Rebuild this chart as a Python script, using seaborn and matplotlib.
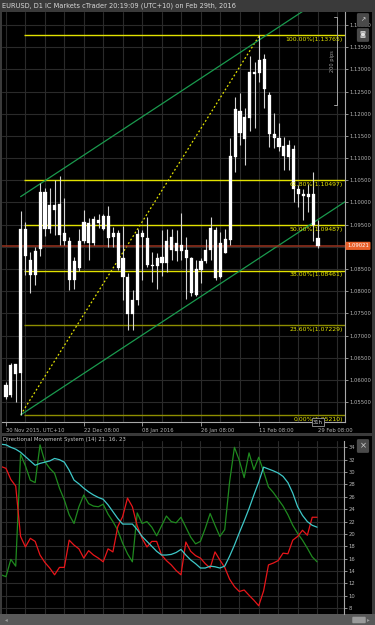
import numpy as np
import pandas as pd
import matplotlib
matplotlib.use("Agg")
import matplotlib.pyplot as plt
import matplotlib.transforms as mtransforms
from matplotlib.patches import Rectangle, FancyBboxPatch
import seaborn as sns

sns.set_theme(style="dark")
plt.rcParams['font.family'] = ['DejaVu Sans']

# ---------------- data ----------------
title = "EURUSD, D1 IC Markets cTrader 20:19:09 (UTC+10) on Feb 29th, 2016"
dms_title = "Directional Movement System (14) 21, 16, 23"

opens = [1.0589, 1.0566, 1.0635, 1.0616, 1.0940, 1.0870, 1.0837, 1.0894, 1.1024, 1.0940,
         1.0994, 1.0997, 1.0930, 1.0913, 1.0825, 1.0852, 1.0914, 1.0954, 1.0909, 1.0960,
         1.0940, 1.0970, 1.0921, 1.0930, 1.0874, 1.0833, 1.0749, 1.0780, 1.0930, 1.0919,
         1.0860, 1.0857, 1.0878, 1.0864, 1.0923, 1.0891, 1.0904, 1.0893, 1.0874, 1.0791,
         1.0848, 1.0869, 1.0893, 1.0938, 1.0833, 1.0917, 1.0915, 1.1103, 1.1207, 1.1142,
         1.1190, 1.1294, 1.1291, 1.1323, 1.1242, 1.1154, 1.1145, 1.1127, 1.1102, 1.1120,
         1.1030, 1.1019, 1.1013, 1.1019, 1.0919]
highs = [1.0596, 1.0637, 1.0635, 1.0981, 1.0957, 1.0889, 1.0900, 1.1043, 1.1033, 1.1032,
         1.1051, 1.1060, 1.1011, 1.0921, 1.0876, 1.0940, 1.0983, 1.0964, 1.0970, 1.0974,
         1.0974, 1.0992, 1.0944, 1.0938, 1.0947, 1.0842, 1.0803, 1.0940, 1.0938, 1.0968,
         1.0889, 1.0887, 1.0938, 1.0940, 1.0940, 1.0938, 1.0977, 1.0921, 1.0878, 1.0870,
         1.0874, 1.0917, 1.0968, 1.0945, 1.0934, 1.0940, 1.1145, 1.1238, 1.1247, 1.1212,
         1.1329, 1.1317, 1.13765, 1.1335, 1.1250, 1.1202, 1.1180, 1.1148, 1.1141, 1.1130,
         1.1039, 1.1030, 1.1042, 1.1069, 1.0960]
lows = [1.0556, 1.0562, 1.0551, 1.0521, 1.0837, 1.0795, 1.0814, 1.0879, 1.0924, 1.0930,
        1.0927, 1.0904, 1.0904, 1.0803, 1.0804, 1.0846, 1.0909, 1.0870, 1.0904, 1.0942,
        1.0938, 1.0900, 1.0900, 1.0848, 1.0780, 1.0713, 1.0713, 1.0769, 1.0825, 1.0855,
        1.0821, 1.0804, 1.0834, 1.0844, 1.0870, 1.0869, 1.0870, 1.0782, 1.0788, 1.0788,
        1.0819, 1.0863, 1.0870, 1.0825, 1.0829, 1.0885, 1.0904, 1.1069, 1.1130, 1.1084,
        1.1162, 1.1167, 1.1272, 1.1214, 1.1126, 1.1122, 1.1117, 1.1073, 1.1073, 1.1002,
        1.0990, 1.0960, 1.0979, 1.0912, 1.0897]
closes = [1.0562, 1.0634, 1.0613, 1.0940, 1.0879, 1.0837, 1.0891, 1.1024, 1.0940, 1.0994,
          1.0983, 1.0927, 1.0912, 1.0825, 1.0868, 1.0914, 1.0957, 1.0909, 1.0962, 1.0954,
          1.0970, 1.0919, 1.0930, 1.0852, 1.0833, 1.0749, 1.0780, 1.0929, 1.0923, 1.0859,
          1.0857, 1.0874, 1.0864, 1.0914, 1.0893, 1.0908, 1.0891, 1.0874, 1.0795, 1.0849,
          1.0869, 1.0893, 1.0942, 1.0829, 1.0909, 1.0887, 1.1105, 1.1210, 1.1157, 1.1192,
          1.1295, 1.1289, 1.1321, 1.1255, 1.1154, 1.1145, 1.1126, 1.1105, 1.1130, 1.1030,
          1.1019, 1.1015, 1.1019, 1.0949, 1.09021]

x_tick_bars = [0, 16, 28, 40, 52, 64]
x_tick_labels = ["30 Nov 2015, UTC+10", "22 Dec 08:00", "08 Jan 2016",
                 "26 Jan 08:00", "11 Feb 08:00", "29 Feb 08:00"]

fib_pcts = ["0.00%", "23.60%", "38.00%", "50.00%", "61.80%", "100.00%"]
fib_levels = [1.05210, 1.07229, 1.08461, 1.09487, 1.10497, 1.13765]
swing_low_bar = 3
swing_high_bar = 52

channel_start_bar = 3
channel_slope = 0.000722      # price per bar
channel_width = 0.0492

pips_top = 1.1419
pips_span = 200

# DMS values start one bar before the first visible candle
dms_first_bar = -1
adx = [34.5, 34.4, 34.0, 33.7, 33.2, 32.5, 31.8, 31.1, 31.4, 31.6, 31.8, 32.2, 32.0, 31.6,
       30.3, 28.7, 28.1, 27.4, 26.8, 26.3, 25.9, 25.6, 24.7, 23.6, 22.5, 21.6, 21.6, 21.6,
       20.7, 19.6, 18.8, 18.0, 17.2, 16.6, 16.6, 16.7, 17.0, 17.5, 16.6, 15.8, 15.2, 14.5,
       14.5, 14.8, 14.7, 14.5, 14.8, 16.4, 18.2, 20.2, 22.1, 24.1, 26.3, 28.4, 30.8, 30.5,
       30.2, 29.85, 29.3, 28.3, 26.6, 24.4, 23.0, 22.0, 21.4, 21.1]
plus_di = [13.4, 13.1, 15.9, 14.8, 32.9, 31.0, 28.7, 28.3, 34.4, 31.7, 30.6, 29.8, 27.4,
           25.5, 23.1, 21.7, 24.4, 26.3, 24.9, 24.5, 24.4, 24.8, 23.2, 22.0, 20.6, 18.5,
           16.8, 15.5, 23.4, 21.7, 22.0, 21.1, 19.7, 21.3, 22.9, 22.0, 21.8, 22.7, 21.1,
           19.5, 18.4, 18.8, 20.9, 23.3, 21.4, 19.6, 20.7, 28.4, 34.0, 31.9, 29.1, 33.1,
           30.4, 32.4, 30.1, 27.6, 26.7, 25.6, 24.5, 23.1, 21.4, 20.1, 19.0, 17.7, 16.3, 15.5]
minus_di = [30.9, 30.6, 28.8, 27.75, 19.6, 17.9, 19.3, 18.8, 16.6, 15.4, 14.5, 13.4, 14.6,
            14.6, 19.0, 18.2, 17.6, 16.1, 17.3, 16.6, 16.1, 15.5, 17.6, 17.1, 21.2, 22.8,
            25.8, 24.4, 21.3, 19.3, 17.9, 18.8, 18.8, 16.6, 15.7, 15.0, 14.1, 13.4, 18.7,
            17.2, 16.5, 16.1, 15.2, 14.5, 17.1, 15.8, 14.6, 12.7, 11.5, 10.7, 10.95, 10.1,
            9.3, 8.4, 10.8, 15.0, 15.3, 15.7, 16.9, 16.8, 19.0, 19.6, 20.6, 19.8, 22.7, 22.7]

# ---------------- layout helpers ----------------
W, H = 375, 625
def rect(x0, y0, x1, y1):
    return [x0 / W, 1 - y1 / H, (x1 - x0) / W, (y1 - y0) / H]

fig = plt.figure(figsize=(3.75, 6.25), dpi=100, facecolor='#3a3a3a')

# black panel backgrounds (behind the axes)
for (x0, y0, x1, y1) in [(2, 11.5, 372, 433), (2, 436, 372, 614)]:
    fig.patches.append(Rectangle((x0 / W, 1 - y1 / H), (x1 - x0) / W, (y1 - y0) / H,
                                 transform=fig.transFigure, facecolor='black',
                                 edgecolor='none', zorder=-10))
# scrollbar
fig.patches.append(Rectangle((0, 0), 1, 11 / H, transform=fig.transFigure,
                             facecolor='#585858', edgecolor='none', zorder=-10))
fig.patches.append(FancyBboxPatch((353 / W, 1 - 622 / H), 12 / W, 4 / H,
                                  boxstyle="round,pad=0.002", transform=fig.transFigure,
                                  facecolor='#9a9a9a', edgecolor='none', zorder=-9))
fig.text(6 / W, 1 - 620 / H, "◂", fontsize=4, color='#9a9a9a', va='center', ha='center')
fig.text(368 / W, 1 - 620 / H, "▸", fontsize=4, color='#9a9a9a', va='center', ha='center')

fig.text(2 / W, 1 - 6 / H, title, fontsize=4.8, color='#d8d8d8', va='center', ha='left')

grid_c = '#2a2a2a'
axis_c = '#a8a8a8'
label_c = '#b4b4b4'

n = len(closes)
bars = np.arange(n)
xlim = (-0.82, 69.54)

# ---------------- main price panel ----------------
ax = fig.add_axes(rect(2, 12, 345, 422))
ax.set_facecolor('black')
ax.set_xlim(*xlim)
ax.set_ylim(1.0505, 1.14293)

price_ticks = np.round(np.arange(1.055, 1.1401, 0.005), 3)
for v in price_ticks:
    ax.axhline(v, color=grid_c, lw=0.8, zorder=0)
for b in range(0, 70, 4):
    ax.axvline(b, color=grid_c, lw=0.8, zorder=0)

last = closes[-1]
ax.yaxis.tick_right()
ax.set_yticks(price_ticks)
# the tick label hidden under the current-price marker is left blank
ax.set_yticklabels(["" if abs(v - last) < 0.0015 else f"{v:.5f}" for v in price_ticks])
ax.set_xticks(x_tick_bars)
ax.set_xticklabels(x_tick_labels)
for lab in ax.get_xticklabels():
    lab.set_horizontalalignment('left')
ax.tick_params(axis='y', colors=axis_c, labelcolor=label_c, labelsize=3.8,
               length=2, width=0.6, pad=1, right=True, left=False)
ax.tick_params(axis='x', colors=axis_c, labelcolor=label_c, labelsize=3.8,
               length=3, width=0.6, pad=1.5, bottom=True)
for s in ['top', 'left']:
    ax.spines[s].set_visible(False)
for s in ['right', 'bottom']:
    ax.spines[s].set_color(axis_c)
    ax.spines[s].set_linewidth(0.8)
ax.grid(False)

bt = mtransforms.blended_transform_factory(ax.transAxes, ax.transData)
btx = mtransforms.blended_transform_factory(ax.transData, ax.transAxes)

# fibonacci retracement
for pct, lvl in zip(fib_pcts, fib_levels):
    bright = float(pct.rstrip('%')) >= 38
    ax.hlines(lvl, swing_low_bar + 0.7, xlim[1], color='#e2e200' if bright else '#8e8e00',
              lw=1.0, zorder=2)
    ax.annotate(f"{pct}({lvl:.5f})", xy=(0.994, lvl), xycoords=bt, xytext=(0, -1.2),
                textcoords='offset points', ha='right', va='top', fontsize=4.4,
                color='#e6e600', zorder=6)
ax.plot([swing_low_bar, swing_high_bar], [lows[swing_low_bar], highs[swing_high_bar]],
        color='#e2e200', lw=0.9, ls=(0, (1.5, 1.8)), zorder=2)

# channel
cx = np.array([channel_start_bar, xlim[1]])
lower = lows[channel_start_bar] + channel_slope * (cx - channel_start_bar)
ax.plot(cx, lower, color='#1a9a4e', lw=0.9, zorder=2)
ax.plot(cx, lower + channel_width, color='#1a9a4e', lw=0.9, zorder=2)

# current price line
ax.axhline(last, color='#9a3420', lw=1.1, zorder=2)

# candles
o = np.array(opens); c = np.array(closes)
ax.vlines(bars, lows, highs, color='#d4d4d4', lw=0.8, zorder=3)
body_h = np.maximum(np.abs(c - o), 0.00012)
ax.bar(bars, body_h, bottom=np.minimum(o, c), width=0.64, color='white',
       edgecolor='white', lw=0.2, zorder=4)

# price label box
ax.text(1.006, last, f"{last:.5f}", transform=bt, ha='left', va='center', fontsize=3.8,
        color='white', zorder=7, clip_on=False,
        bbox=dict(boxstyle='round,pad=0.3,rounding_size=0.2', fc='#e8602a', ec='none'))

# 200 pips ruler
px_bar = 67.9
pb = pips_top - pips_span * 0.0001
ax.plot([px_bar, px_bar], [pips_top, pb], color='#a0a0a0', lw=0.7, zorder=5)
ax.plot([px_bar - 0.6, px_bar], [pips_top, pips_top], color='#a0a0a0', lw=0.7, zorder=5)
ax.plot([px_bar - 0.6, px_bar], [pb, pb], color='#a0a0a0', lw=0.7, zorder=5)
ax.text(px_bar - 0.85, (pips_top + pb) / 2, f"{pips_span} pips", rotation=90,
        ha='center', va='center', fontsize=3.6, color='#a0a0a0', zorder=5)

# countdown box
ax.text(n - 1, 0.0, "31h", transform=btx, ha='center', va='center', fontsize=3.8,
        color='#d0d0d0', zorder=8, clip_on=False,
        bbox=dict(boxstyle='square,pad=0.25', fc='black', ec='#9a9a9a', lw=0.6))

# top-right icons
for yc, glyph in [(20, "↗"), (35, "◙")]:
    fig.patches.append(FancyBboxPatch((358 / W, 1 - (yc + 5) / H), 10 / W, 10 / H,
                                      boxstyle="round,pad=0.003", transform=fig.transFigure,
                                      facecolor='#4a4a4a', edgecolor='none', zorder=5))
    fig.text(363 / W, 1 - yc / H, glyph, fontsize=4.5, color='#e0e0e0',
             ha='center', va='center', zorder=6)

# ---------------- DMS panel ----------------
ax2 = fig.add_axes(rect(2, 441, 344, 614))
ax2.set_facecolor('black')
ax2.set_xlim(*xlim)
ax2.set_ylim(7.07, 35.02)
dms_ticks = list(range(8, 35, 2))
for v in dms_ticks:
    ax2.axhline(v, color=grid_c, lw=0.8, zorder=0)
for b in range(0, 70, 4):
    ax2.axvline(b, color=grid_c, lw=0.8, zorder=0)

dms_bars = np.arange(dms_first_bar, dms_first_bar + len(adx))
df = pd.DataFrame({'bar': dms_bars, '+DI': plus_di, '-DI': minus_di, 'ADX': adx})
long = df.melt(id_vars='bar', var_name='series', value_name='value')
sns.lineplot(data=long, x='bar', y='value', hue='series',
             hue_order=['+DI', '-DI', 'ADX'],
             palette={'+DI': '#1f8a1f', '-DI': '#e8161a', 'ADX': '#3ec8c8'},
             lw=0.9, legend=False, ax=ax2, zorder=3)
ax2.set_xlabel(''); ax2.set_ylabel('')
ax2.yaxis.tick_right()
ax2.set_yticks(dms_ticks)
ax2.set_yticklabels([str(v) for v in dms_ticks])
ax2.set_xticks([])
ax2.tick_params(axis='y', colors=axis_c, labelcolor=label_c, labelsize=3.8,
                length=2, width=0.6, pad=1, right=True, left=False)
for s in ['top', 'left', 'bottom']:
    ax2.spines[s].set_visible(False)
ax2.spines['right'].set_color(axis_c)
ax2.spines['right'].set_linewidth(0.8)
ax2.grid(False)

fig.text(3 / W, 1 - 440 / H, dms_title, fontsize=3.9, color='#c8c8c8',
         va='center', ha='left', zorder=10)

# close button
fig.patches.append(FancyBboxPatch((358 / W, 1 - 451 / H), 10 / W, 10 / H,
                                  boxstyle="round,pad=0.003", transform=fig.transFigure,
                                  facecolor='#4a4a4a', edgecolor='none', zorder=5))
fig.text(363 / W, 1 - 446 / H, "×", fontsize=6, color='#d0d0d0',
         ha='center', va='center', zorder=6)

fig.savefig("out.png", dpi=100, facecolor=fig.get_facecolor())
